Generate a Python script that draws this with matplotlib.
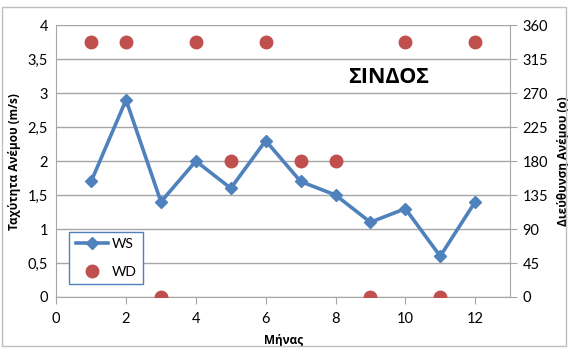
import matplotlib
matplotlib.use("Agg")
import matplotlib.pyplot as plt
from matplotlib.patches import Rectangle

plt.rcParams['font.family'] = ['Lato', 'DejaVu Sans']
bold_family = ['Open Sans', 'DejaVu Sans']

months = [1, 2, 3, 4, 5, 6, 7, 8, 9, 10, 11, 12]
wind_speed = [1.7, 2.9, 1.4, 2.0, 1.6, 2.3, 1.7, 1.5, 1.1, 1.3, 0.6, 1.4]
wind_dir = [337.5, 337.5, 0, 337.5, 180, 337.5, 180, 180, 0, 337.5, 0, 337.5]
ws_ticks = [0, 0.5, 1, 1.5, 2, 2.5, 3, 3.5, 4]
ws_ticklabels = ['0', '0,5', '1', '1,5', '2', '2,5', '3', '3,5', '4']
wd_ticks = [0, 45, 90, 135, 180, 225, 270, 315, 360]
x_ticks = [0, 2, 4, 6, 8, 10, 12]

blue = '#4F81BD'
red = '#C0504D'
grid = '#A6A6A6'

fig = plt.figure(figsize=(5.68, 3.49), dpi=100)
ax = fig.add_axes([0.099, 0.149, 0.799, 0.779])
ax2 = ax.twinx()

ln_ws, = ax.plot(months, wind_speed, color=blue, lw=2.6, marker='D', ms=6.5,
                 markeredgecolor=blue, label='WS', zorder=3)
ln_wd, = ax2.plot(months, wind_dir, linestyle='none', marker='o', ms=9,
                  color=red, markeredgecolor=red, label='WD', zorder=3)

ax.set_xlim(0, 13)
ax.set_ylim(0, 4)
ax2.set_ylim(0, 360)
ax.set_xticks(x_ticks)
ax.set_yticks(ws_ticks)
ax.set_yticklabels(ws_ticklabels)
ax2.set_yticks(wd_ticks)

ax.yaxis.grid(True, color=grid, lw=1)
ax.set_axisbelow(True)

for a in (ax, ax2):
    for s in a.spines.values():
        s.set_visible(False)
ax.spines['bottom'].set_visible(True)
ax.spines['bottom'].set_color(grid)
ax.spines['left'].set_visible(True)
ax.spines['left'].set_color(grid)
ax2.spines['right'].set_visible(True)
ax2.spines['right'].set_color(grid)

ax.tick_params(axis='x', length=5, color=grid, labelsize=10.5, pad=6)
ax.tick_params(axis='y', length=0, labelsize=10.5, pad=6)
ax2.tick_params(axis='y', length=5, color=grid, labelsize=10.5, pad=4)

ax.set_xlabel('Μήνας', fontsize=8.5, fontweight='bold', family=bold_family)
ax.xaxis.set_label_coords(0.5, -0.135)
ax.set_ylabel('Ταχύτητα Ανέμου (m/s)', fontsize=8.5, fontweight='bold',
              family=bold_family, labelpad=5)
ax2.set_ylabel('Διεύθυνση Ανέμου (o)', fontsize=8.5, fontweight='bold',
               family=bold_family, labelpad=6)

ax.text(0.733, 0.809, 'ΣΙΝΔΟΣ', transform=ax.transAxes, fontsize=15.5,
        fontweight='bold', family=bold_family, ha='center', va='center')

leg = ax2.legend([ln_ws, ln_wd], ['WS', 'WD'], loc='upper left',
                 bbox_to_anchor=(0.029, 0.239), fontsize=10, frameon=True,
                 fancybox=False, edgecolor=blue, framealpha=1,
                 borderpad=0.45, labelspacing=1.1, handlelength=2.3,
                 handletextpad=0.3, borderaxespad=0)
leg.get_frame().set_linewidth(1)

fig.patches.append(Rectangle((0.004, 0.01), 0.992, 0.97, transform=fig.transFigure,
                             fill=False, edgecolor='#BFBFBF', lw=1))

fig.savefig('out.png', dpi=100)
